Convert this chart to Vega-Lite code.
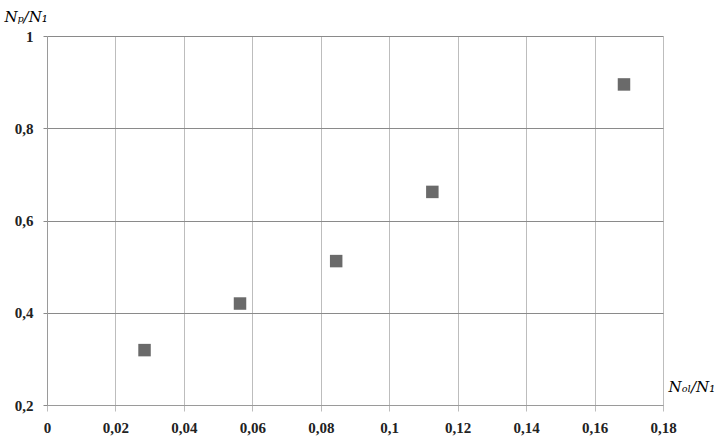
{
  "$schema": "https://vega.github.io/schema/vega-lite/v6.json",
  "width": 616,
  "height": 369,
  "autosize": "none",
  "padding": {"left": 47, "top": 36, "right": 52, "bottom": 39},
  "background": "white",
  "config": {"view": {"stroke": null}},
  "data": {"values": [
    {"x": 0.0285, "y": 0.319},
    {"x": 0.0564, "y": 0.42},
    {"x": 0.0845, "y": 0.512},
    {"x": 0.1126, "y": 0.662},
    {"x": 0.1686, "y": 0.895}
  ]},
  "mark": {"type": "point", "shape": "square", "filled": true, "size": 156, "color": "#6a6a6a", "opacity": 1},
  "encoding": {
    "x": {"field": "x", "type": "quantitative",
      "scale": {"domain": [0, 0.18], "nice": false, "zero": false},
      "axis": {
        "values": [0, 0.02, 0.04, 0.06, 0.08, 0.1, 0.12, 0.14, 0.16, 0.18],
        "labelExpr": "replace(format(datum.value, '~g'), '.', ',')",
        "grid": true, "gridColor": "#bdbdbd", "gridWidth": 1, "gridOpacity": 1,
        "domainColor": "#9a9a9a", "domainWidth": 1,
        "tickColor": "#bdbdbd", "tickSize": 6,
        "labelFont": "Liberation Serif", "labelFontSize": 15, "labelFontWeight": "bold", "labelColor": "#222", "labelPadding": 9,
        "labelFlush": false,
        "title": "Nₒₗ/N₁", "titleFont": "DejaVu Serif", "titleFontStyle": "italic", "titleFontWeight": "normal",
        "titleFontSize": 15, "titleColor": "#000", "titleAngle": 0,
        "titleX": 621, "titleY": -14, "titleAlign": "left", "titleBaseline": "alphabetic", "titleAnchor": null
      }
    },
    "y": {"field": "y", "type": "quantitative",
      "scale": {"domain": [0.2, 1], "nice": false, "zero": false},
      "axis": {
        "values": [0.2, 0.4, 0.6, 0.8, 1],
        "labelExpr": "replace(format(datum.value, '~g'), '.', ',')",
        "grid": true, "gridColor": "#8a8a8a", "gridWidth": 1, "gridOpacity": 1,
        "domainColor": "#9a9a9a", "domainWidth": 1,
        "tickColor": "#8a8a8a", "tickSize": 4,
        "labelFont": "Liberation Serif", "labelFontSize": 15, "labelFontWeight": "bold", "labelColor": "#222", "labelPadding": 10,
        "labelFlush": false,
        "title": "Nₚ/N₁", "titleFont": "DejaVu Serif", "titleFontStyle": "italic", "titleFontWeight": "normal",
        "titleFontSize": 15, "titleColor": "#000", "titleAngle": 0,
        "titleX": -43, "titleY": -15, "titleAlign": "left", "titleBaseline": "alphabetic", "titleAnchor": null
      }
    }
  }
}
